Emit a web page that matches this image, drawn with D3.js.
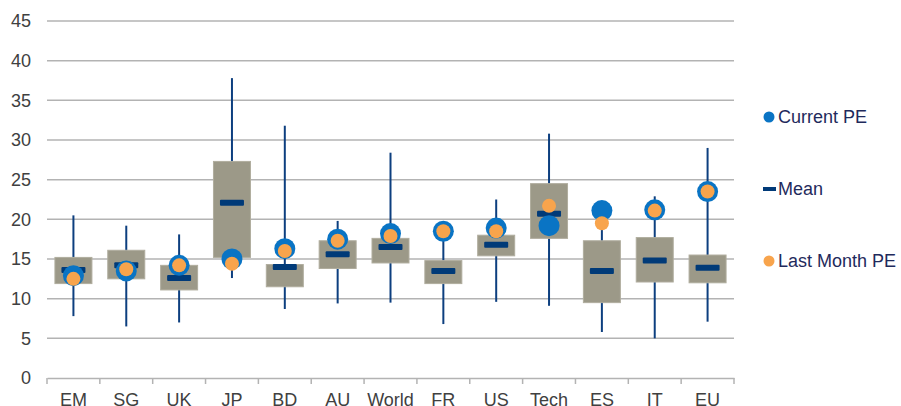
<!DOCTYPE html>
<html>
<head>
<meta charset="utf-8">
<script src="https://cdn.jsdelivr.net/npm/d3@7"></script>
<style>
  body { margin: 0; background: #fff; }
  text { font-family: "Liberation Sans", Arial, sans-serif; }
</style>
</head>
<body>
<div id="chart"></div>
<script>
// Data
var categories = ["EM", "SG", "UK", "JP", "BD", "AU", "World", "FR", "US", "Tech", "ES", "IT", "EU"];
var whiskerHigh = [20.5, 19.2, 18.1, 37.8, 31.8, 19.8, 28.4, 18.5, 22.5, 30.8, 19.8, 22.9, 29.0];
var whiskerLow  = [7.8, 6.5, 7.0, 12.6, 8.7, 9.4, 9.5, 6.8, 9.6, 9.1, 5.8, 5.0, 7.1];
var boxHigh     = [15.2, 16.1, 14.2, 27.3, 14.3, 17.3, 17.6, 14.8, 18.0, 24.5, 17.3, 17.7, 15.5];
var boxLow      = [11.9, 12.5, 11.1, 15.2, 11.5, 13.8, 14.5, 11.9, 15.4, 17.6, 9.5, 12.1, 12.0];
var meanPE      = [13.6, 14.2, 12.6, 22.1, 14.0, 15.6, 16.5, 13.5, 16.8, 20.7, 13.5, 14.8, 13.9];
var currentPE   = [12.9, 13.5, 14.2, 15.0, 16.3, 17.5, 18.2, 18.5, 18.9, 19.2, 21.1, 21.2, 23.5];
var lastMonthPE = [12.5, 13.7, 14.2, 14.4, 16.0, 17.3, 17.9, 18.5, 18.5, 21.7, 19.5, 21.1, 23.5];
var yTicks = [0, 5, 10, 15, 20, 25, 30, 35, 40, 45];

var svgWidth = 901;
var svgHeight = 406;
var margin = { top: 21, right: 167, bottom: 28, left: 47 };
var chartWidth = svgWidth - margin.left - margin.right;
var chartHeight = svgHeight - margin.top - margin.bottom;

var svg = d3.select("#chart")
    .append("svg")
    .attr("width", svgWidth)
    .attr("height", svgHeight);

var chartGroup = svg.append("g")
    .attr("transform", `translate(${margin.left}, ${margin.top})`);

var xScale = d3.scaleBand()
    .domain(categories)
    .range([0, chartWidth]);

var yScale = d3.scaleLinear()
    .domain([0, 45])
    .range([chartHeight, 0]);

var rows = categories.map(function(c, i) {
    return {
        cat: c, hi: whiskerHigh[i], lo: whiskerLow[i],
        q3: boxHigh[i], q1: boxLow[i], mean: meanPE[i],
        cur: currentPE[i], last: lastMonthPE[i]
    };
});

// gridlines
chartGroup.append("g")
    .selectAll("line")
    .data(yTicks.filter(t => t > 0))
    .enter()
    .append("line")
    .attr("x1", 0)
    .attr("x2", chartWidth)
    .attr("y1", d => yScale(d))
    .attr("y2", d => yScale(d))
    .attr("stroke", "#b3b3b3")
    .attr("stroke-width", 1.5);

// y axis labels
var leftAxis = d3.axisLeft(yScale).tickValues(yTicks).tickSize(0).tickPadding(16);
var yAxisG = chartGroup.append("g").call(leftAxis);
yAxisG.select(".domain").remove();
yAxisG.selectAll("text")
    .attr("font-size", "18px")
    .attr("fill", "#404040")
    .style("font-family", "'Liberation Sans', Arial, sans-serif");

// x axis
var bottomAxis = d3.axisBottom(xScale).tickSize(0).tickPadding(15);
var xAxisG = chartGroup.append("g")
    .attr("transform", `translate(0, ${chartHeight})`)
    .call(bottomAxis);
xAxisG.select(".domain")
    .attr("stroke", "#b3b3b3")
    .attr("stroke-width", 1.5);
xAxisG.selectAll("text")
    .attr("font-size", "18px")
    .attr("fill", "#404040")
    .style("font-family", "'Liberation Sans', Arial, sans-serif");
// category separator ticks
xAxisG.selectAll(".sep")
    .data(d3.range(categories.length + 1))
    .enter()
    .append("line")
    .attr("x1", i => i * xScale.step())
    .attr("x2", i => i * xScale.step())
    .attr("y1", 0)
    .attr("y2", 6)
    .attr("stroke", "#b3b3b3")
    .attr("stroke-width", 1.5);

var cx = d => xScale(d.cat) + xScale.bandwidth() / 2;
var boxW = xScale.bandwidth() * 0.7;

// whiskers
chartGroup.selectAll(".whisker")
    .data(rows)
    .enter()
    .append("line")
    .attr("x1", cx)
    .attr("x2", cx)
    .attr("y1", d => yScale(d.hi))
    .attr("y2", d => yScale(d.lo))
    .attr("stroke", "#0d3f7f")
    .attr("stroke-width", 2);

// boxes
chartGroup.selectAll(".box")
    .data(rows)
    .enter()
    .append("rect")
    .attr("x", d => cx(d) - boxW / 2)
    .attr("width", boxW)
    .attr("y", d => yScale(d.q3))
    .attr("height", d => yScale(d.q1) - yScale(d.q3))
    .attr("fill", "#9c9988")
    .attr("stroke", "#b0ad9e")
    .attr("stroke-width", 1);

// mean bars
chartGroup.selectAll(".mean")
    .data(rows)
    .enter()
    .append("rect")
    .attr("x", d => cx(d) - 12)
    .attr("width", 24)
    .attr("y", d => yScale(d.mean) - 3)
    .attr("height", 6)
    .attr("rx", 1)
    .attr("fill", "#003a78");

// current PE
chartGroup.selectAll(".cur")
    .data(rows)
    .enter()
    .append("circle")
    .attr("cx", cx)
    .attr("cy", d => yScale(d.cur))
    .attr("r", 10.5)
    .attr("fill", "#0a74c4");

// last month PE
chartGroup.selectAll(".last")
    .data(rows)
    .enter()
    .append("circle")
    .attr("cx", cx)
    .attr("cy", d => yScale(d.last))
    .attr("r", 7)
    .attr("fill", "#f8a44c");

// legend
var legend = svg.append("g").attr("transform", "translate(769, 0)");
legend.append("circle").attr("cx", 0).attr("cy", 117).attr("r", 5.5).attr("fill", "#0a74c4");
legend.append("text").attr("x", 9).attr("y", 123).text("Current PE");
legend.append("rect").attr("x", -6).attr("y", 187).attr("width", 13).attr("height", 4).attr("fill", "#003a78");
legend.append("text").attr("x", 9).attr("y", 195).text("Mean");
legend.append("circle").attr("cx", 0).attr("cy", 261).attr("r", 5.5).attr("fill", "#f8a44c");
legend.append("text").attr("x", 9).attr("y", 267).text("Last Month PE");
legend.selectAll("text")
    .attr("font-size", "18px")
    .attr("fill", "#1f2a5c");
</script>
</body>
</html>
